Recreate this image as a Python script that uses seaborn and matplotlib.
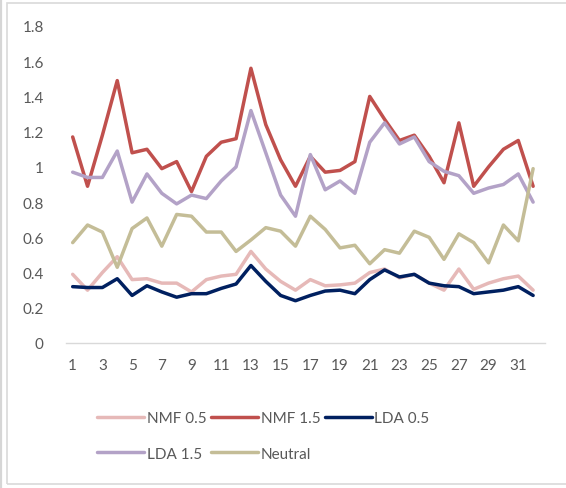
import numpy as np
import pandas as pd
import matplotlib
matplotlib.use("Agg")
import matplotlib.pyplot as plt
import seaborn as sns
from matplotlib.patches import Rectangle

# ----------------- DATA -----------------
days = list(range(1, 33))

nmf_05 = [0.39, 0.30, 0.40, 0.49, 0.36, 0.365, 0.34, 0.34, 0.29, 0.36, 0.38, 0.39,
          0.52, 0.42, 0.35, 0.30, 0.36, 0.325, 0.33, 0.34, 0.40, 0.42, 0.37, 0.39,
          0.34, 0.30, 0.42, 0.305, 0.34, 0.365, 0.38, 0.30]
nmf_15 = [1.17, 0.89, 1.18, 1.49, 1.08, 1.10, 0.99, 1.03, 0.86, 1.06, 1.14, 1.16,
          1.56, 1.24, 1.04, 0.89, 1.06, 0.97, 0.98, 1.03, 1.40, 1.27, 1.15, 1.18,
          1.06, 0.91, 1.25, 0.89, 1.00, 1.10, 1.15, 0.89]
lda_05 = [0.32, 0.315, 0.315, 0.365, 0.27, 0.325, 0.29, 0.26, 0.28, 0.28, 0.31, 0.335,
          0.44, 0.35, 0.27, 0.24, 0.27, 0.295, 0.30, 0.28, 0.36, 0.415, 0.375, 0.39,
          0.34, 0.325, 0.32, 0.28, 0.29, 0.30, 0.32, 0.27]
lda_15 = [0.97, 0.94, 0.94, 1.09, 0.80, 0.96, 0.85, 0.79, 0.84, 0.82, 0.92, 1.00,
          1.32, 1.08, 0.84, 0.72, 1.07, 0.87, 0.92, 0.85, 1.14, 1.25, 1.13, 1.17,
          1.03, 0.975, 0.95, 0.85, 0.88, 0.90, 0.96, 0.80]
neutral = [0.57, 0.67, 0.63, 0.43, 0.65, 0.71, 0.55, 0.73, 0.72, 0.63, 0.63, 0.52,
           0.585, 0.655, 0.635, 0.55, 0.72, 0.645, 0.54, 0.555, 0.45, 0.53, 0.51, 0.635,
           0.60, 0.475, 0.62, 0.57, 0.455, 0.67, 0.58, 0.99]

series_names = ["NMF 0.5", "NMF 1.5", "LDA 0.5", "LDA 1.5", "Neutral"]
series_values = [nmf_05, nmf_15, lda_05, lda_15, neutral]
colors = ["#E6B9B8", "#C0504D", "#002060", "#B3A2C7", "#C4BD97"]

x_ticks = list(range(1, 32, 2))
y_ticks = [0, 0.2, 0.4, 0.6, 0.8, 1, 1.2, 1.4, 1.6, 1.8]
y_labels = ["0", "0.2", "0.4", "0.6", "0.8", "1", "1.2", "1.4", "1.6", "1.8"]

df = pd.concat(
    [pd.DataFrame({"x": days, "value": vals, "series": name})
     for name, vals in zip(series_names, series_values)],
    ignore_index=True,
)

# ----------------- PLOT -----------------
sns.set_theme(style="white")
plt.rcParams["font.family"] = ["Lato", "DejaVu Sans"]

W, H = 566, 489
fig = plt.figure(figsize=(W / 100, H / 100), dpi=100)
ax = fig.add_axes([66 / W, (H - 344) / H, (545 - 66) / W, (344 - 27) / H])

sns.lineplot(data=df, x="x", y="value", hue="series", hue_order=series_names,
             palette=colors, linewidth=2.5, ax=ax, legend=False)

ax.set_xlim(0.55, 32.8)
ax.set_ylim(0, 1.8)
ax.set_xticks(x_ticks)
ax.set_xticklabels([str(t) for t in x_ticks])
ax.set_yticks(y_ticks)
ax.set_yticklabels(y_labels)
ax.set_xlabel("")
ax.set_ylabel("")
ax.tick_params(axis="both", length=0, labelsize=11, colors="#595959")
ax.tick_params(axis="x", pad=11)
ax.tick_params(axis="y", pad=16)
for side in ["top", "right", "left"]:
    ax.spines[side].set_visible(False)
ax.spines["bottom"].set_color("#D9D9D9")
ax.spines["bottom"].set_linewidth(1.0)

# chart border like the spreadsheet frame
fig.patches.append(Rectangle((7 / W, 1 - 485 / H), 600 / W, (485 - 4) / H,
                             transform=fig.transFigure, fill=False,
                             edgecolor="#D9D9D9", linewidth=1.2))
fig.add_artist(plt.Line2D([1.2 / W, 1.2 / W], [0, 1], transform=fig.transFigure,
                          color="#D6D6D6", linewidth=1.6))

# matplotlib fills legend columns first, so reorder to get Excel's row order
order = [0, 3, 1, 4, 2]
handles = [plt.Line2D([], [], color=colors[i], linewidth=2.5) for i in order]
labels = [series_names[i] for i in order]
fig.legend(handles, labels, ncol=3, loc="upper left",
           bbox_to_anchor=(97 / W, 1 - 412 / H), frameon=False,
           handlelength=3.1, handletextpad=0.15, columnspacing=0.3,
           borderpad=0, borderaxespad=0, labelspacing=1.42,
           fontsize=11, labelcolor="#595959")

fig.savefig("out.png", dpi=100)
